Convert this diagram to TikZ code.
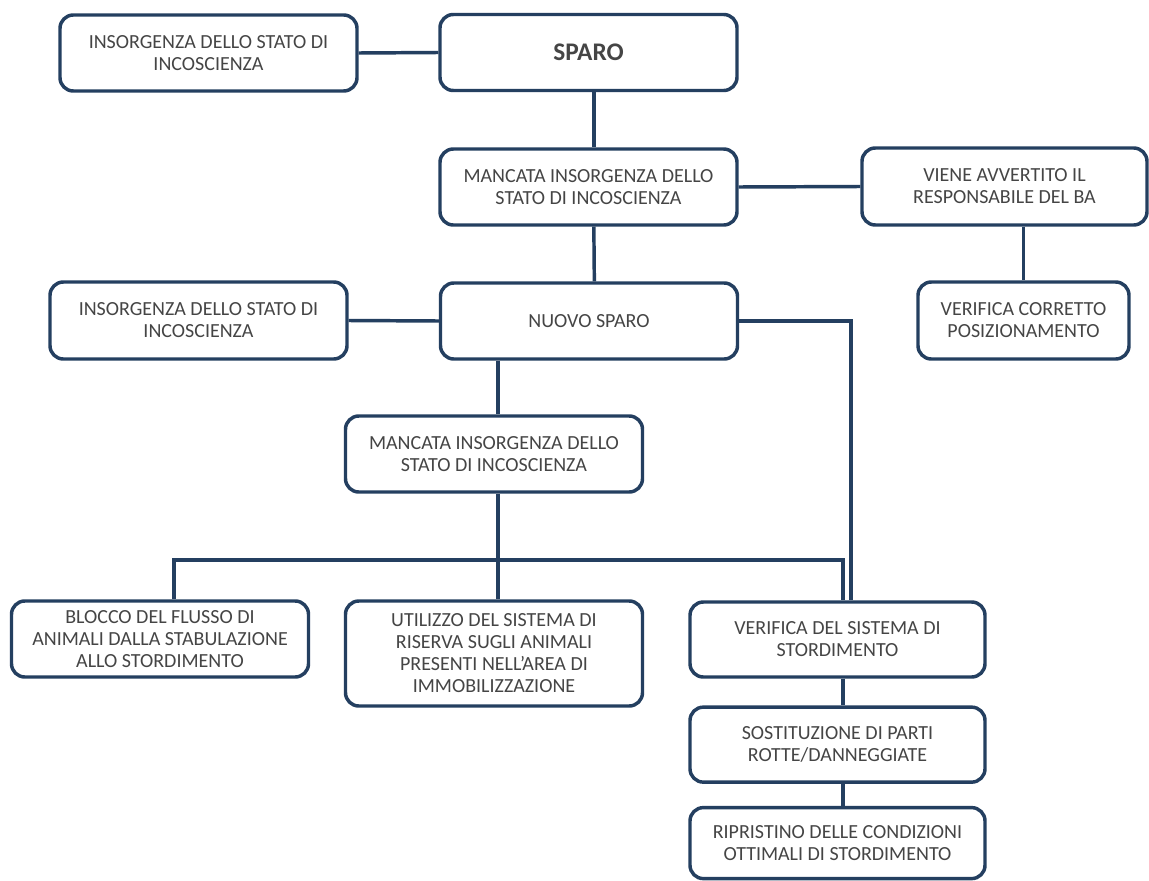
\documentclass[tikz,border=0pt]{standalone}
\usepackage{fontspec}
\setmainfont{Carlito}
\usetikzlibrary{positioning}
\definecolor{BoxNavy}{HTML}{243F60}
\definecolor{LabelGray}{HTML}{454545}

\begin{document}
\begin{tikzpicture}[
    x=0.75pt,y=-0.75pt,
    stepbox/.style={draw=BoxNavy,fill=white,line width=2.6pt,rounded corners=10pt,
      minimum width=222.75pt,minimum height=57pt,inner sep=2pt,align=center,
      text=LabelGray,font=\fontsize{15}{16.5}\selectfont},
    headbox/.style={stepbox,font=\fontsize{19}{22}\selectfont\bfseries},
    link/.style={draw=BoxNavy,line width=2.6pt}
  ]
    \useasboundingbox[fill=white] (0,0) rectangle (1149,881);

    % first shot
    \node[headbox] (sparo) at (588.5,52.5) {SPARO};
    \node[stepbox] (ins1) at (208.5,53) {INSORGENZA DELLO STATO DI\\INCOSCIENZA};
    \node[stepbox] (manc1) at (588.5,187) {MANCATA INSORGENZA DELLO\\STATO DI INCOSCIENZA};
    \node[stepbox,minimum width=213.75pt,minimum height=57.75pt] (avv) at (1004.5,186.5) {VIENE AVVERTITO IL\\RESPONSABILE DEL BA};
    \node[stepbox,minimum width=158.25pt,minimum height=57.75pt] (vcorr) at (1023.5,320.5) {VERIFICA CORRETTO\\POSIZIONAMENTO};

    % second shot
    \node[stepbox,minimum height=57.75pt] (ins2) at (198.5,320.5) {INSORGENZA DELLO STATO DI\\INCOSCIENZA};
    \node[stepbox] (nuovo) at (589,321) {NUOVO SPARO};
    \node[stepbox] (manc2) at (494,454) {MANCATA INSORGENZA DELLO\\STATO DI INCOSCIENZA};

    % actions
    \node[stepbox] (blocco) at (160,639) {BLOCCO DEL FLUSSO DI\\ANIMALI DALLA STABULAZIONE\\ALLO STORDIMENTO};
    \node[stepbox,minimum height=78.75pt] (util) at (494,653.5) {UTILIZZO DEL SISTEMA DI\\RISERVA SUGLI ANIMALI\\PRESENTI NELL’AREA DI\\IMMOBILIZZAZIONE};
    \node[stepbox,minimum width=221.25pt,minimum height=56.25pt] (vsist) at (837.5,639.5) {VERIFICA DEL SISTEMA DI\\STORDIMENTO};
    \node[stepbox,minimum width=221.25pt,minimum height=56.25pt,below=20pt of vsist] (sost) {SOSTITUZIONE DI PARTI\\ROTTE/DANNEGGIATE};
    \node[stepbox,minimum width=221.25pt,minimum height=53.25pt,below=16.5pt of sost] (ripr) {RIPRISTINO DELLE CONDIZIONI\\OTTIMALI DI STORDIMENTO};

    \coordinate (bar) at (498,560);

    \draw[link] (ins1.east) -- (sparo.west);
    \draw[link] ([xshift=4pt]sparo.south) -- ([xshift=4pt]manc1.north);
    \draw[link] (manc1.east) -- (avv.west);
    \draw[link] (vcorr.north |- avv.south) -- (vcorr.north);
    \draw[link] ([xshift=4pt]manc1.south) -- ([xshift=4pt]nuovo.north);
    \draw[link] (ins2.east) -- (nuovo.west);
    \draw[link] (nuovo.east) -| ([xshift=10pt]vsist.north);
    \draw[link] ([xshift=3pt]manc2.north |- nuovo.south) -- ([xshift=3pt]manc2.north);
    \draw[link] ([xshift=3pt]manc2.south) -- ([xshift=3pt]util.north);
    \draw[link] ([xshift=10.5pt]blocco.north) |- (bar) -| ([xshift=4pt]vsist.north);
    \draw[link] ([xshift=4pt]vsist.south) -- ([xshift=4pt]sost.north);
    \draw[link] ([xshift=4pt]sost.south) -- ([xshift=4pt]ripr.north);
  \end{tikzpicture}
\end{document}
